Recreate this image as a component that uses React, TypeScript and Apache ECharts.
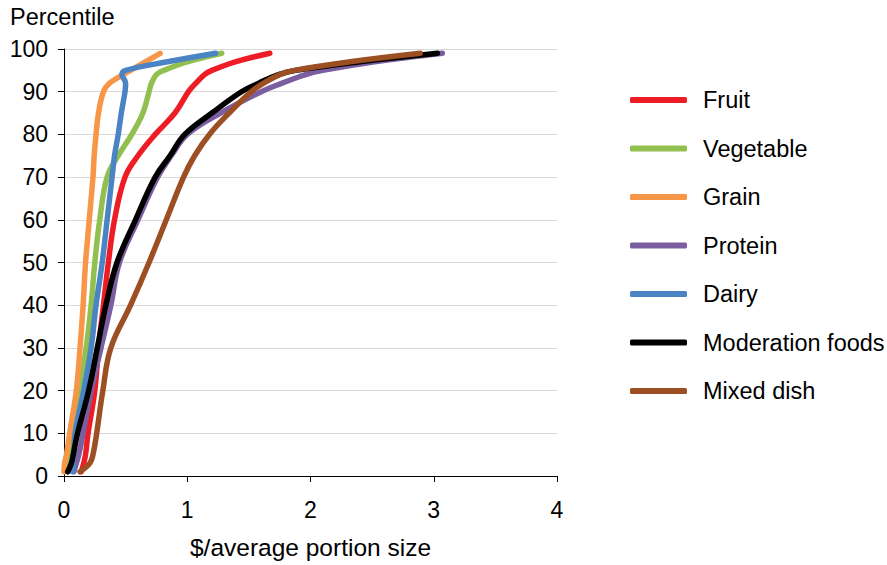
import React, { useEffect, useRef } from "react";
import * as echarts from "echarts";

const percentiles = [1, 3, 5, 10, 20, 30, 40, 50, 60, 70, 75, 80, 85, 90, 92, 94, 95, 97, 99];

const fruit = [0.14, 0.16, 0.175, 0.195, 0.25, 0.28, 0.32, 0.36, 0.41, 0.495, 0.6, 0.74, 0.9, 1.01, 1.07, 1.14, 1.2, 1.39, 1.67];
const vegetable = [0.03, 0.045, 0.05, 0.065, 0.125, 0.18, 0.22, 0.25, 0.29, 0.35, 0.44, 0.55, 0.64, 0.69, 0.71, 0.75, 0.81, 1.0, 1.28];
const grain = [0.0, 0.005, 0.02, 0.046, 0.1, 0.13, 0.155, 0.175, 0.205, 0.235, 0.245, 0.26, 0.28, 0.32, 0.37, 0.48, 0.54, 0.66, 0.78];
const protein = [0.08, 0.1, 0.12, 0.155, 0.22, 0.3, 0.38, 0.45, 0.6, 0.76, 0.87, 1.0, 1.27, 1.6, 1.77, 1.96, 2.1, 2.52, 3.07];
const dairy = [0.07, 0.075, 0.08, 0.09, 0.16, 0.22, 0.26, 0.31, 0.35, 0.39, 0.41, 0.44, 0.465, 0.495, 0.5, 0.47, 0.5, 0.84, 1.23];
const moderation = [0.03, 0.06, 0.075, 0.11, 0.2, 0.27, 0.34, 0.43, 0.58, 0.74, 0.86, 0.98, 1.2, 1.44, 1.58, 1.74, 1.88, 2.4, 3.03];
const mixedDish = [0.13, 0.21, 0.235, 0.265, 0.315, 0.38, 0.54, 0.69, 0.83, 0.97, 1.06, 1.18, 1.34, 1.52, 1.62, 1.75, 1.87, 2.32, 2.89];

const seriesNames = ["Fruit", "Vegetable", "Grain", "Protein", "Dairy", "Moderation foods", "Mixed dish"];
const seriesValues = [fruit, vegetable, grain, protein, dairy, moderation, mixedDish];
const seriesColors = ["#ee1c25", "#92c050", "#f79646", "#7b5ea0", "#4a84c4", "#000000", "#9c4f22"];

const xTicks = [0, 1, 2, 3, 4];
const yTicks = [0, 10, 20, 30, 40, 50, 60, 70, 80, 90, 100];

const FONT = "'Liberation Sans', Arial, Helvetica, sans-serif";

export default function App() {
  const ref = useRef<HTMLDivElement>(null);
  useEffect(() => {
    document.body.style.margin = "0";
    if (!ref.current) return;
    const chart = echarts.init(ref.current, undefined, { renderer: "svg" });
    chart.setOption({
      animation: false,
      backgroundColor: "#ffffff",
      textStyle: { fontFamily: FONT },
      title: {
        text: "Percentile",
        left: 10,
        top: 5,
        padding: 0,
        textStyle: { fontSize: 23.5, fontWeight: "normal", color: "#000", fontFamily: FONT },
      },
      grid: { left: 64, top: 49, right: 330, bottom: 89, containLabel: false },
      legend: {
        orient: "vertical",
        left: 630,
        top: 86,
        padding: 0,
        itemWidth: 57,
        itemHeight: 6,
        itemGap: 20.5,
        icon: "roundRect",
        data: seriesNames,
        textStyle: {
          fontSize: 23.5,
          color: "#000",
          fontFamily: FONT,
          lineHeight: 28,
          padding: [0, 0, 0, 11],
        },
      },
      xAxis: {
        type: "value",
        min: xTicks[0],
        max: xTicks[xTicks.length - 1],
        interval: 1,
        name: "$/average portion size",
        nameLocation: "middle",
        nameGap: 59,
        nameTextStyle: { fontSize: 24.5, color: "#000", fontFamily: FONT },
        axisLine: { show: true, lineStyle: { color: "#000", width: 1 } },
        axisTick: { show: true, length: 6, lineStyle: { color: "#000" } },
        axisLabel: { fontSize: 23, color: "#000", margin: 22, fontFamily: FONT },
        splitLine: { show: false },
      },
      yAxis: {
        type: "value",
        min: yTicks[0],
        max: yTicks[yTicks.length - 1],
        interval: 10,
        axisLine: { show: true, lineStyle: { color: "#000", width: 1 } },
        axisTick: { show: true, length: 6, lineStyle: { color: "#000" } },
        axisLabel: { fontSize: 23, color: "#000", margin: 16, fontFamily: FONT },
        splitLine: { show: true, lineStyle: { color: "#d9d9d9", width: 1 } },
      },
      series: seriesNames.map((name, i) => ({
        name,
        type: "line",
        data: seriesValues[i].map((v, j) => [v, percentiles[j]]),
        showSymbol: false,
        symbol: "none",
        smooth: 0.4,
        color: seriesColors[i],
        lineStyle: { width: 5.5, color: seriesColors[i], cap: "round", join: "round" },
        z: 2 + i,
      })),
    });
    return () => chart.dispose();
  }, []);
  return <div ref={ref} style={{ width: 887, height: 565 }} />;
}
